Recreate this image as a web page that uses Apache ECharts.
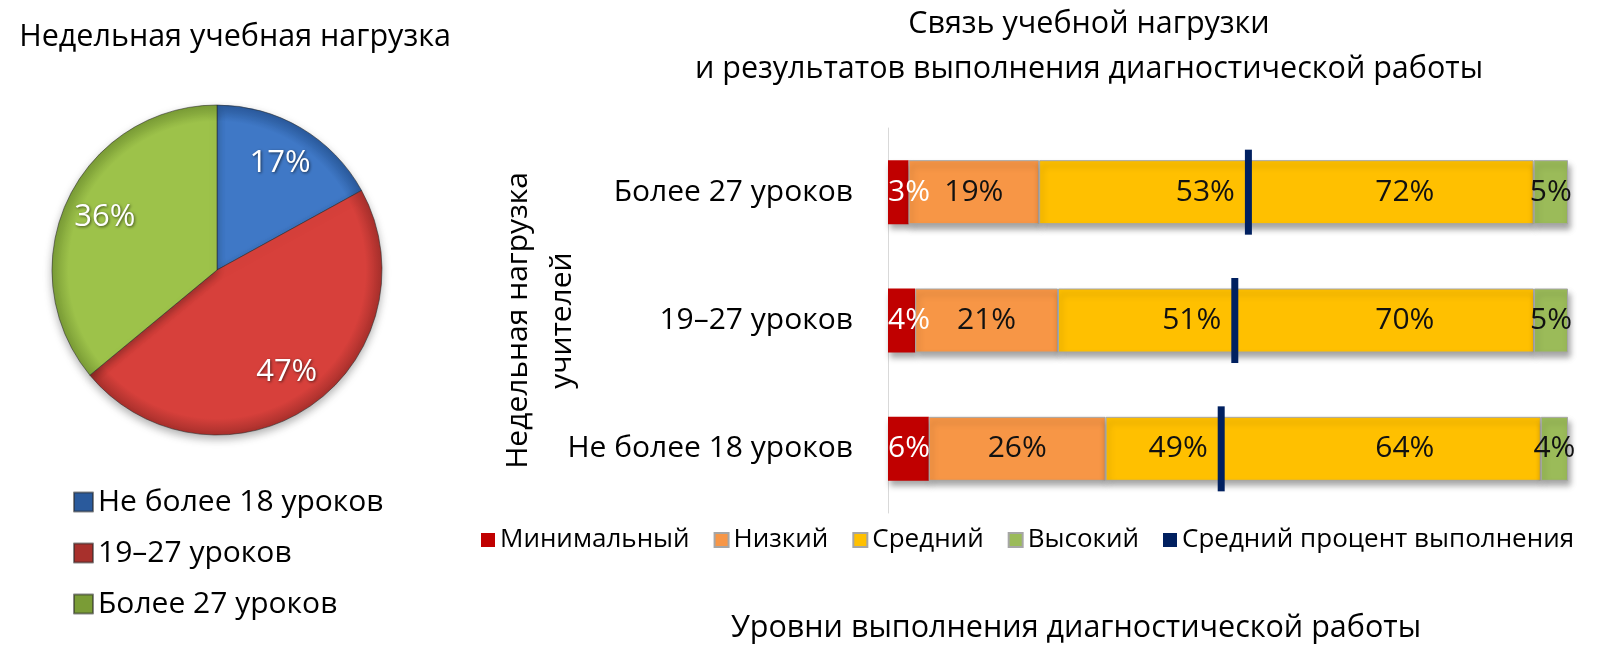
<!DOCTYPE html>
<html>
<head>
<meta charset="utf-8">
<script src="https://cdn.jsdelivr.net/npm/echarts@6/dist/echarts.min.js"></script>
<style>
html,body{margin:0;padding:0;background:#fff;}
#chart{width:1603px;height:667px;}
</style>
</head>
<body>
<div id="chart"></div>
<script>
// ---- Data ----
const pieNames = ['Не более 18 уроков', '19–27 уроков', 'Более 27 уроков'];
const pieValues = [17, 47, 36];

const loadCategories = ['Более 27 уроков', '19–27 уроков', 'Не более 18 уроков'];
const levelNames = ['Минимальный', 'Низкий', 'Средний', 'Высокий'];
const minimalValues = [3, 4, 6];
const lowValues = [19, 21, 26];
const mediumValues = [72, 70, 64];
const highValues = [5, 5, 4];
const avgName = 'Средний процент выполнения';
const avgValues = [53, 51, 49];

// ---- Styles ----
const FONT = "'Open Sans', 'Noto Sans', sans-serif";
const pieColors = ['#3f78c6', '#d7403b', '#9dc24a'];
const pieRim = ['#2a5a9c', '#a8302c', '#7a9c36'];
const levelColors = ['#c00000', '#f79646', '#ffc000', '#9bbb59'];
const avgColor = '#002060';

const PIE_C = [217, 270];
const PIE_R = 165;

const chart = echarts.init(document.getElementById('chart'), null, {renderer: 'canvas'});

const levelSeriesRaw = [minimalValues, lowValues, mediumValues, highValues];
const totals = loadCategories.map((_, i) => levelSeriesRaw.reduce((s, arr) => s + arr[i], 0));

function barSeries(idx) {
  const raw = levelSeriesRaw[idx];
  const data = raw.map((v, i) => {
    const item = {value: v / totals[i] * 100, raw: v};
    if (idx === 2) {
      // place the "Средний" label toward the right part of the segment
      let start = 0;
      for (let k = 0; k < idx; k++) start += levelSeriesRaw[k][i] / totals[i] * 100;
      const w = v / totals[i] * 100;
      const px = (76 - start) / w * 100;
      item.label = {position: [px + '%', '50%'], align: 'center', verticalAlign: 'middle'};
    }
    return item;
  });
  const lbl = {
    show: true,
    fontFamily: FONT,
    fontSize: 30,
    color: idx === 0 ? '#ffffff' : '#111111',
    formatter: p => p.data.raw + '%'
  };
  if (idx === 0) { lbl.position = 'insideLeft'; lbl.distance = 0; }
  else lbl.position = 'inside';
  return {
    name: levelNames[idx],
    type: 'bar',
    stack: 'levels',
    barWidth: 64,
    data: data,
    itemStyle: {
      color: levelColors[idx],
      borderColor: idx === 0 ? levelColors[0] : '#a6a6a6',
      borderWidth: idx === 0 ? 0 : 1,
      shadowColor: 'rgba(0,0,0,0.35)',
      shadowBlur: 6,
      shadowOffsetX: 2,
      shadowOffsetY: 5
    },
    label: lbl,
    emphasis: {disabled: true},
    z: 2
  };
}

const pieData = pieNames.map((n, i) => ({
  name: n,
  value: pieValues[i],
  itemStyle: {
    color: new echarts.graphic.RadialGradient(PIE_C[0], PIE_C[1], PIE_R, [
      {offset: 0, color: pieColors[i]},
      {offset: 0.9, color: pieColors[i]},
      {offset: 1, color: pieRim[i]}
    ], true)
  }
}));

const option = {
  backgroundColor: '#ffffff',
  animation: false,
  title: [
    {
      text: 'Недельная учебная нагрузка',
      left: 230, top: 17, textAlign: 'center',
      textStyle: {fontFamily: FONT, fontSize: 30.5, fontWeight: 'normal', color: '#000'}
    },
    {
      text: 'Связь учебной нагрузки\nи результатов выполнения диагностической работы',
      left: 1084, top: -3, textAlign: 'center',
      textStyle: {fontFamily: FONT, fontSize: 30.5, fontWeight: 'normal', color: '#000', lineHeight: 45}
    },
    {
      text: 'Уровни выполнения диагностической работы',
      left: 1071, top: 608, textAlign: 'center',
      textStyle: {fontFamily: FONT, fontSize: 30.5, fontWeight: 'normal', color: '#000'}
    }
  ],
  legend: [
    {
      data: pieNames,
      orient: 'vertical',
      left: 68, top: 482,
      itemWidth: 19, itemHeight: 19, itemGap: 21,
      icon: 'rect',
      selectedMode: false,
      textStyle: {fontFamily: FONT, fontSize: 30, color: '#000'}
    },
    {
      data: levelNames.concat([avgName]),
      orient: 'horizontal',
      left: 476, top: 522,
      itemWidth: 14, itemHeight: 14, itemGap: 24,
      icon: 'rect',
      selectedMode: false,
      textStyle: {fontFamily: FONT, fontSize: 26, color: '#000'}
    }
  ],
  grid: {left: 888, width: 680, top: 128, height: 385, containLabel: false},
  xAxis: {
    type: 'value', min: 0, max: 100, show: false
  },
  yAxis: {
    type: 'category',
    data: loadCategories,
    inverse: true,
    axisLine: {show: true, lineStyle: {color: '#d9d9d9', width: 1}},
    axisTick: {show: false},
    axisLabel: {fontFamily: FONT, fontSize: 30, color: '#000', margin: 35},
    name: 'Недельная нагрузка\nучителей',
    nameLocation: 'middle',
    nameRotate: 90,
    nameGap: 304,
    nameMoveOverlap: false,
    nameTextStyle: {fontFamily: FONT, fontSize: 30, color: '#000', lineHeight: 44, align: 'center'}
  },
  series: [
    {
      name: 'pie',
      type: 'pie',
      center: PIE_C,
      radius: [0, PIE_R],
      startAngle: 90,
      clockwise: true,
      data: pieData,
      label: {show: false},
      labelLine: {show: false},
      itemStyle: {
        borderColor: 'rgba(40,40,40,0.55)',
        borderWidth: 1,
        shadowColor: 'rgba(0,0,0,0.3)',
        shadowBlur: 8,
        shadowOffsetY: 4
      },
      emphasis: {disabled: true}
    },
    {
      name: 'pieLabels',
      type: 'pie',
      center: PIE_C,
      radius: [77, PIE_R],
      startAngle: 90,
      clockwise: true,
      silent: true,
      data: pieNames.map((n, i) => ({name: n, value: pieValues[i]})),
      itemStyle: {color: 'rgba(0,0,0,0)'},
      label: {
        show: true, position: 'inside',
        formatter: p => p.value + '%',
        fontFamily: FONT, fontSize: 31, color: '#ffffff',
        textShadowColor: 'rgba(0,0,0,0.6)', textShadowBlur: 3, textShadowOffsetX: 1, textShadowOffsetY: 1
      },
      labelLine: {show: false},
      emphasis: {disabled: true},
      z: 3
    },
    barSeries(0),
    barSeries(1),
    barSeries(2),
    barSeries(3),
    {
      name: avgName,
      type: 'scatter',
      symbol: 'rect',
      symbolSize: [7, 85],
      data: avgValues.map((v, i) => [v, loadCategories[i]]),
      itemStyle: {color: avgColor, opacity: 1},
      label: {
        show: true, position: 'left', distance: 10,
        formatter: p => p.value[0] + '%',
        fontFamily: FONT, fontSize: 30, color: '#111111'
      },
      emphasis: {disabled: true},
      z: 5
    }
  ]
};

chart.setOption(option);
</script>
</body>
</html>
